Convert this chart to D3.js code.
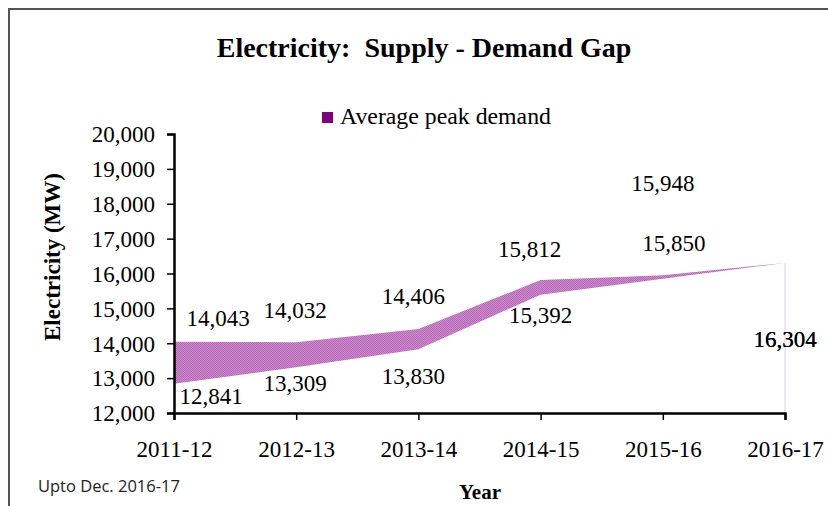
<!DOCTYPE html>
<html>
<head>
<meta charset="utf-8">
<script src="https://cdn.jsdelivr.net/npm/d3@7"></script>
<style>
  html, body { margin: 0; padding: 0; background: #fff; }
  svg { display: block; }
</style>
</head>
<body>
<svg id="chart" width="828" height="506"></svg>
<script>
// ---- data ----
const years = ["2011-12", "2012-13", "2013-14", "2014-15", "2015-16", "2016-17"];
const peakDemand = [14043, 14032, 14406, 15812, 15948, 16304];
const peakMet = [12841, 13309, 13830, 15392, 15850, 16304];
const yTicks = [12000, 13000, 14000, 15000, 16000, 17000, 18000, 19000, 20000];
const seriesName = "Average peak demand";
const titleText = "Electricity:  Supply - Demand Gap";
const yTitle = "Electricity (MW)";
const xTitle = "Year";
const noteText = "Upto Dec. 2016-17";

// ---- layout ----
const svg = d3.select("#chart");
const serif = "'Liberation Serif', 'Times New Roman', serif";
const FS = 23;

// label offsets [dx, dy] relative to the data point (layout only)
const demandLabelOff = [[44, -16], [-1, -24], [-5, -25], [-11, -23], [0, -84], [0, 84]];
const metLabelOff = [[37, 20], [-1, 24], [-5, 35], [0, 28], [11, -28], [0, 84]];

const x = d3.scalePoint().domain(years).range([174, 785]);
const y = d3.scaleLinear().domain([12000, 20000]).range([413, 134]);

// frame
svg.append("rect").attr("x", 9).attr("y", 9).attr("width", 840).attr("height", 520)
  .attr("fill", "none").attr("stroke", "#555").attr("stroke-width", 2);

// pattern for band fill
const defs = svg.append("defs");
const pat = defs.append("pattern").attr("id", "hatch").attr("patternUnits", "userSpaceOnUse")
  .attr("width", 2).attr("height", 2);
pat.append("rect").attr("width", 2).attr("height", 2).attr("fill", "#cc8ccc");
pat.append("rect").attr("width", 1).attr("height", 1).attr("fill", "#b868b8");
pat.append("rect").attr("x", 1).attr("y", 1).attr("width", 1).attr("height", 1).attr("fill", "#b868b8");

// title
svg.append("text").attr("x", 424).attr("y", 57).attr("text-anchor", "middle")
  .attr("font-family", serif).attr("font-weight", "bold").attr("font-size", 28)
  .style("white-space", "pre").text(titleText);

// legend
svg.append("rect").attr("x", 322).attr("y", 112).attr("width", 11).attr("height", 11).attr("fill", "#800080");
svg.append("text").attr("x", 340).attr("y", 124).attr("font-family", serif).attr("font-size", 23.8)
  .text(seriesName);

// band
const rows = years.map((yr, i) => ({ yr, hi: peakDemand[i], lo: peakMet[i] }));
const area = d3.area().x(d => x(d.yr)).y0(d => y(d.lo)).y1(d => y(d.hi));
svg.append("path").datum(rows).attr("d", area).attr("fill", "url(#hatch)");

// faint drop line at last point
const last = rows[rows.length - 1];
svg.append("line").attr("x1", x(last.yr)).attr("x2", x(last.yr))
  .attr("y1", y(last.hi)).attr("y2", y(12000)).attr("stroke", "#e6cce6").attr("stroke-width", 1);

// axes
const yAxis = svg.append("g").attr("transform", "translate(174,0)")
  .call(d3.axisLeft(y).tickValues(yTicks).tickSize(7).tickPadding(12).tickFormat(d3.format(",")));
const xAxis = svg.append("g").attr("transform", "translate(0,413)")
  .call(d3.axisBottom(x).tickSize(7).tickPadding(10));
[yAxis, xAxis].forEach(g => {
  g.select(".domain").attr("stroke", "#000").attr("stroke-width", 2.5);
  g.selectAll(".tick line").attr("stroke", "#000").attr("stroke-width", 1.5);
  g.selectAll(".tick text").attr("font-family", serif).attr("font-size", FS).attr("fill", "#000");
});
yAxis.selectAll(".tick text").attr("dy", "0.34em");
xAxis.selectAll(".tick text").attr("y", 44).attr("dy", 0);

// axis titles
svg.append("text").attr("transform", "translate(60,257) rotate(-90)").attr("text-anchor", "middle")
  .attr("font-family", serif).attr("font-weight", "bold").attr("font-size", FS).text(yTitle);
svg.append("text").attr("x", 480).attr("y", 499).attr("text-anchor", "middle")
  .attr("font-family", serif).attr("font-weight", "bold").attr("font-size", 21).text(xTitle);

// note
svg.append("text").attr("x", 38).attr("y", 492).attr("font-family", "'Open Sans', 'Liberation Sans', sans-serif")
  .attr("font-size", 16.5).attr("fill", "#222").text(noteText);

// data labels
const fmt = d3.format(",");
svg.append("g").selectAll("text").data(rows).join("text")
  .attr("x", (d, i) => x(d.yr) + demandLabelOff[i][0])
  .attr("y", (d, i) => y(d.hi) + demandLabelOff[i][1])
  .attr("text-anchor", "middle").attr("font-family", serif).attr("font-size", FS)
  .text(d => fmt(d.hi));
svg.append("g").selectAll("text").data(rows).join("text")
  .attr("x", (d, i) => x(d.yr) + metLabelOff[i][0])
  .attr("y", (d, i) => y(d.lo) + metLabelOff[i][1])
  .attr("text-anchor", "middle").attr("font-family", serif).attr("font-size", FS)
  .text(d => fmt(d.lo));
</script>
</body>
</html>
